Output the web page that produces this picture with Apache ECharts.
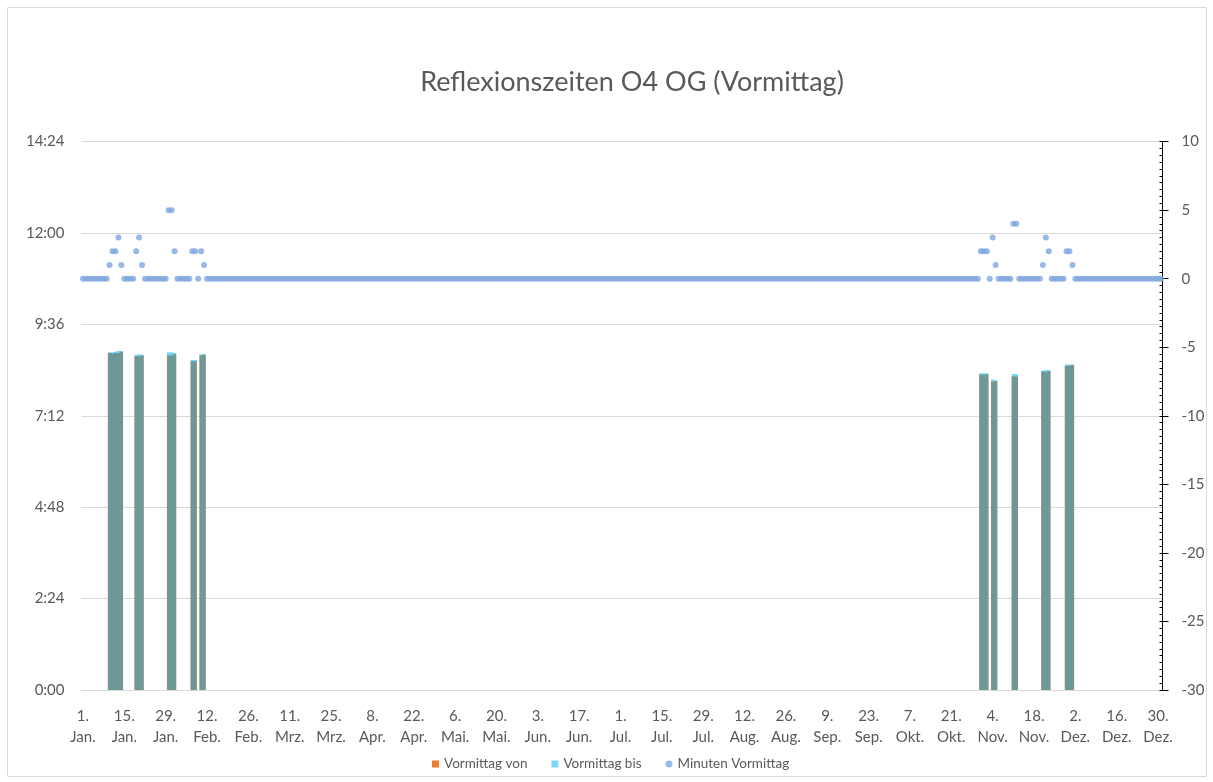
<!DOCTYPE html>
<html><head><meta charset="utf-8">
<script src="https://cdn.jsdelivr.net/npm/echarts@6/dist/echarts.min.js"></script>
<style>html,body{margin:0;padding:0;background:#fff}#c{width:1213px;height:782px}</style>
</head><body><div id="c"></div>
<script>
// ---- data ----
const titleText = 'Reflexionszeiten O4 OG (Vormittag)';
const monthNames = ['Jan.','Feb.','Mrz.','Apr.','Mai.','Jun.','Jul.','Aug.','Sep.','Okt.','Nov.','Dez.'];
const monthLengths = [31,29,31,30,31,30,31,31,30,31,30,31]; // Schaltjahr
// days with reflection (D.M.)
const reflexDatum = ['10.1.','11.1.','12.1.','13.1.','14.1.','19.1.','20.1.','21.1.','30.1.','31.1.','1.2.','7.2.','8.2.','10.2.','11.2.',
  '31.10.','1.11.','2.11.','4.11.','5.11.','11.11.','12.11.','21.11.','22.11.','23.11.','29.11.','30.11.','1.12.'];
const vormittagVon = ['8:51','8:50','8:51','8:51','8:53','8:46','8:46','8:47','8:47','8:47','8:49','8:38','8:38','8:47','8:48',
  '8:17','8:17','8:17','8:06','8:07','8:14','8:14','8:22','8:21','8:22','8:31','8:31','8:32'];
const vormittagBis = ['8:52','8:52','8:53','8:54','8:54','8:48','8:49','8:48','8:52','8:52','8:51','8:40','8:40','8:49','8:49',
  '8:19','8:19','8:19','8:09','8:08','8:18','8:18','8:23','8:24','8:24','8:33','8:33','8:33'];
const minutenVormittag = [1,2,2,3,1,2,3,1,5,5,2,2,2,2,1,2,2,2,3,1,4,4,1,3,2,2,2,1];
const leftAxis = {min: 0, max: 864, interval: 144};   // minutes (0:00 .. 14:24)
const rightAxis = {min: -30, max: 10, interval: 5};

// ---- build tables ----
const dayKeys = [], dayLabels = [];
monthLengths.forEach((len, m) => {
  for (let d = 1; d <= len; d++) { dayKeys.push(d + '.' + (m + 1) + '.'); dayLabels.push(d + '.\n' + monthNames[m]); }
});
const toMin = s => { const p = s.split(':'); return +p[0] * 60 + +p[1]; };
const vonData = dayKeys.map(() => null), bisData = dayKeys.map(() => null), minData = dayKeys.map(() => 0);
reflexDatum.forEach((k, i) => {
  const idx = dayKeys.indexOf(k);
  vonData[idx] = toMin(vormittagVon[i]);
  bisData[idx] = toMin(vormittagBis[i]);
  minData[idx] = minutenVormittag[i];
});
const fmtTime = v => Math.floor(v / 60) + ':' + String(v % 60).padStart(2, '0');

const FONT = 'Lato';
const GRAY = '#595959';
const chart = echarts.init(document.getElementById('c'), null, {renderer: 'canvas'});
chart.setOption({
  animation: false,
  textStyle: {fontFamily: FONT},
  graphic: [
    {type: 'rect', shape: {x: 7.5, y: 7.5, width: 1199, height: 769}, style: {fill: 'none', stroke: '#d9d9d9', lineWidth: 1}, silent: true},
    {type: 'text', x: 632, y: 82, style: {text: titleText, font: '27px Lato', fill: GRAY, textAlign: 'center', textVerticalAlign: 'middle'}}
  ],
  legend: {
    bottom: 6, left: 427, itemWidth: 7, itemHeight: 7, itemGap: 24,
    textStyle: {fontSize: 13.5, color: GRAY, fontFamily: FONT},
    data: [{name: 'Vormittag von', icon: 'rect'}, {name: 'Vormittag bis', icon: 'rect'}, {name: 'Minuten Vormittag', icon: 'circle'}]
  },
  grid: {left: 81.5, right: 50.5, top: 141.6, bottom: 92, containLabel: false, outerBoundsMode: 'none'},
  xAxis: {
    type: 'category', data: dayKeys, boundaryGap: true,
    axisLine: {lineStyle: {color: '#d9d9d9'}},
    axisTick: {interval: 13, alignWithLabel: true, length: 5, lineStyle: {color: '#d9d9d9'}},
    axisLabel: {interval: 13, color: GRAY, fontSize: 15, lineHeight: 21, margin: 16, fontFamily: FONT,
      formatter: (v, i) => dayLabels[i]},
    splitLine: {show: false}
  },
  yAxis: [
    {type: 'value', min: leftAxis.min, max: leftAxis.max, interval: leftAxis.interval,
      axisLine: {show: false}, axisTick: {show: false},
      axisLabel: {formatter: fmtTime, color: GRAY, fontSize: 15, margin: 17, fontFamily: FONT},
      splitLine: {lineStyle: {color: '#d9d9d9', width: 1}}},
    {type: 'value', position: 'right', min: rightAxis.min, max: rightAxis.max, interval: rightAxis.interval,
      axisLine: {show: true, lineStyle: {color: '#000'}},
      axisTick: {show: true, inside: true, length: 3, lineStyle: {color: '#000'}},
      minorTick: {show: true, splitNumber: 10, length: 3, lineStyle: {color: '#000'}},
      axisLabel: {color: GRAY, fontSize: 15, margin: 19, fontFamily: FONT},
      splitLine: {show: false}, minorSplitLine: {show: false}},
    {type: 'value', position: 'right', offset: 0, min: rightAxis.min, max: rightAxis.max, interval: rightAxis.interval,
      axisLine: {show: false}, axisTick: {show: true, inside: false, length: 6, lineStyle: {color: '#000'}},
      axisLabel: {show: false}, splitLine: {show: false}}
  ],
  series: [
    {type: 'bar', name: 'Vormittag von', data: vonData, yAxisIndex: 0, barGap: '-100%', barWidth: 3.4,
      itemStyle: {color: '#ED7D31'}},
    {type: 'bar', name: 'Vormittag bis', data: bisData, yAxisIndex: 0, barGap: '-100%', barWidth: 3.4,
      itemStyle: {color: '#00B0F0', opacity: 0.5}},
    {type: 'scatter', name: 'Minuten Vormittag', data: minData, yAxisIndex: 1, symbolSize: 6,
      itemStyle: {color: '#7EA6DE'}}
  ]
});
</script></body></html>
